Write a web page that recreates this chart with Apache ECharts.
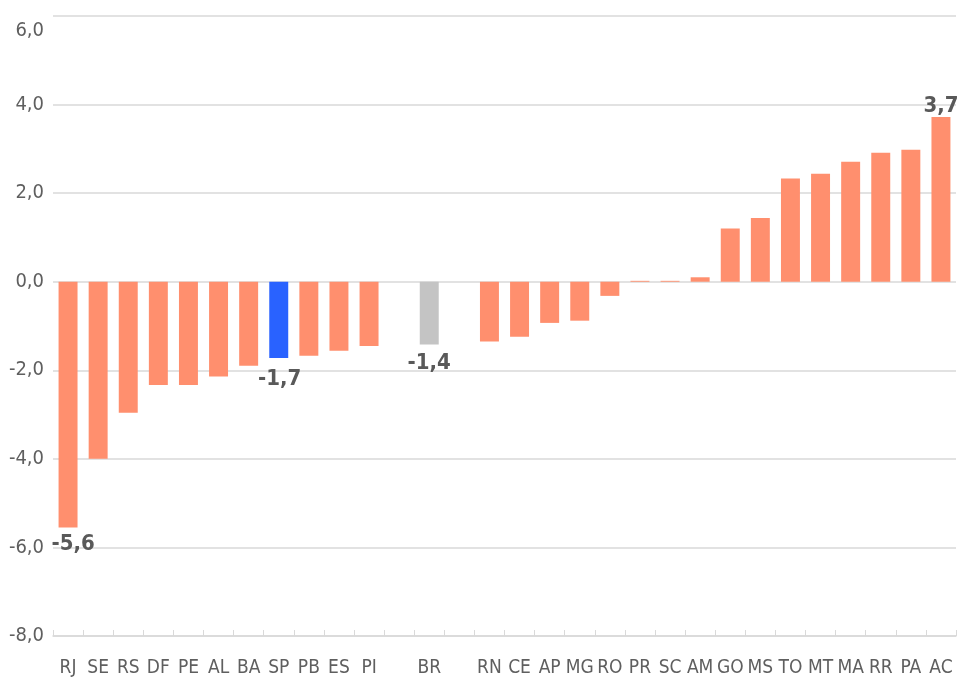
<!DOCTYPE html>
<html>
<head>
<meta charset="utf-8">
<script src="https://cdn.jsdelivr.net/npm/echarts@6/dist/echarts.min.js"></script>
<style>html,body{margin:0;padding:0;background:#fff}#c{width:958px;height:678px}</style>
</head>
<body>
<div id="c"></div>
<script>
const categories = ['RJ','SE','RS','DF','PE','AL','BA','SP','PB','ES','PI','','BR','','RN','CE','AP','MG','RO','PR','SC','AM','GO','MS','TO','MT','MA','RR','PA','AC'];
const values = [-5.55,-4.0,-2.96,-2.33,-2.33,-2.14,-1.9,-1.72,-1.67,-1.56,-1.45,null,-1.42,null,-1.35,-1.24,-0.93,-0.88,-0.32,0.02,0.02,0.1,1.2,1.44,2.33,2.44,2.71,2.91,2.98,3.72];
const labeled = {'RJ':'-5,6','SP':'-1,7','BR':'-1,4','AC':'3,7'};
const labelOffsets = {'RJ':[5,4],'SP':[1,8],'BR':[0,6],'AC':[0,2]};
const specialColors = {'SP':'#2962FF','BR':'#C4C4C4'};
const yTicks = {min:-8, max:6, interval:2};

const FONT = '"DejaVu Sans Condensed","Liberation Sans Narrow",sans-serif';
const data = values.map((v,i)=>{
  const c = categories[i];
  const item = {value: v, itemStyle:{color: specialColors[c] || '#FF8F6E'}};
  if (labeled[c]) {
    item.label = {show:true, position:'outside', distance:2, offset: labelOffsets[c],
      formatter: labeled[c], fontFamily: FONT, fontWeight:'bold', fontSize:22, color:'#595959'};
  }
  return item;
});

const chart = echarts.init(document.getElementById('c'));
chart.setOption({
  animation:false,
  grid:{left:53,right:2,top:16,bottom:42,containLabel:false},
  xAxis:{type:'category', data:categories,
    axisLine:{show:true, onZero:false, lineStyle:{color:'#D9D9D9', width:1.5}},
    axisTick:{show:true, inside:true, length:6, alignWithLabel:false, lineStyle:{color:'#D9D9D9'}},
    axisLabel:{interval:0, margin:23, fontFamily:FONT, fontSize:19, color:'#5f5f5f'}},
  yAxis:{type:'value', min:yTicks.min, max:yTicks.max, interval:yTicks.interval,
    axisLine:{show:false}, axisTick:{show:false},
    splitLine:{lineStyle:{color:'#D9D9D9', width:1.5}},
    axisLabel:{margin:9, fontFamily:FONT, fontSize:20, color:'#5f5f5f',
      formatter:(v)=> v===yTicks.max ? '{t|'+v.toFixed(1).replace('.',',')+'}' : v.toFixed(1).replace('.',','),
      rich:{t:{fontFamily:FONT, fontSize:20, color:'#5f5f5f', padding:[30,0,0,0]}}}},
  series:[{type:'bar', data:data, barWidth:'63%', label:{show:false}}]
});
</script>
</body>
</html>
